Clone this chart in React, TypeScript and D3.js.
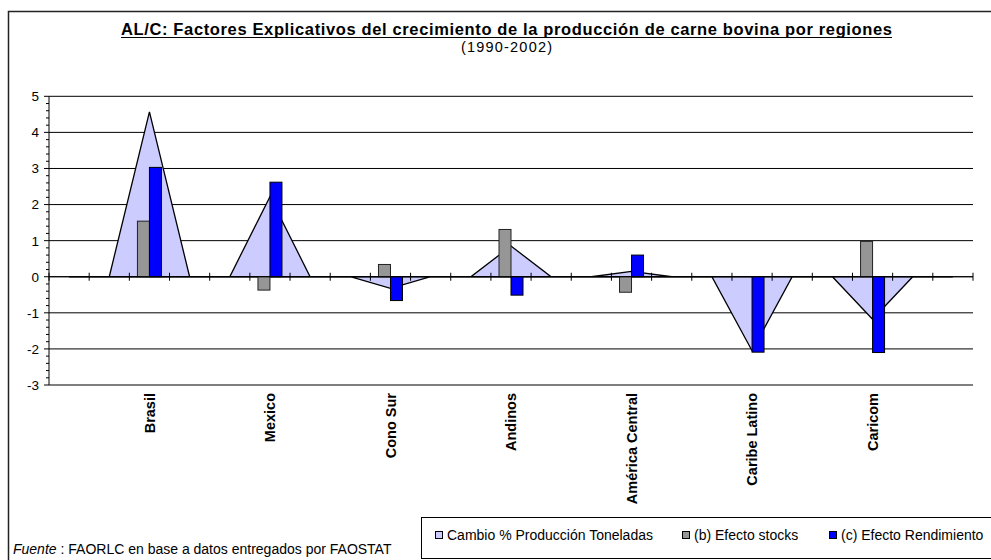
import React from "react";
import * as d3 from "d3";

const categories = [
  "", "", "Brasil", "", "", "Mexico", "", "", "Cono Sur", "", "", "Andinos", "", "",
  "América Central", "", "", "Caribe Latino", "", "", "Caricom", "", "",
];
const cambioProduccion = [
  0, 0, 4.57, 0, 0, 2.22, 0, 0, -0.32, 0, 0, 0.85, 0, 0, 0.15, 0, 0, -2.05, 0, 0, -1.18, 0, 0,
];
const efectoStocks: (number | null)[] = [
  null, null, 1.54, null, null, -0.37, null, null, 0.34, null, null, 1.31, null, null,
  -0.43, null, null, null, null, null, 0.98, null, null,
];
const efectoRendimiento: (number | null)[] = [
  null, null, 3.03, null, null, 2.62, null, null, -0.66, null, null, -0.51, null, null,
  0.6, null, null, -2.09, null, null, -2.1, null, null,
];
const yTicks = [-3, -2, -1, 0, 1, 2, 3, 4, 5];
const legendLabels = ["Cambio % Producción Toneladas", "(b) Efecto stocks", "(c) Efecto Rendimiento"];
const legendColors = ["#CCCCFF", "#969696", "#0000FF"];
const titleText = "AL/C: Factores Explicativos del crecimiento de la producción de carne bovina por regiones";
const subtitleText = "(1990-2002)";
const sourceLabel = "Fuente";
const sourceText = " : FAORLC en base a datos entregados por FAOSTAT";

const FONT = "'Liberation Sans', Arial, Helvetica, sans-serif";

export default function App() {
  const W = 991;
  const H = 560;
  const plot = { left: 49, right: 973, top: 96.3, bottom: 385 };

  const idx = d3.range(categories.length);
  const x = d3.scaleBand<number>().domain(idx).range([plot.left, plot.right]).padding(0);
  const cx = (i: number) => (x(i) as number) + x.bandwidth() / 2;
  const y = d3.scaleLinear().domain([-3, 5]).range([plot.bottom, plot.top]);
  const barW = 12;
  const sub = d3.scaleBand<string>().domain(["stocks", "rend"]).range([-barW, barW]).padding(0);

  const areaGen = d3
    .area<number>()
    .x((_, i) => cx(i))
    .y0(y(0))
    .y1((d) => y(d));
  const areaPath = areaGen(cambioProduccion) || "";

  const minorTicks = d3.range(-3, 5.0001, 0.2).filter((v) => Math.abs(v - Math.round(v)) > 0.01);
  const boundaries = d3.range(categories.length + 1).map((i) =>
    i < categories.length ? (x(i) as number) : plot.right
  );

  const bars: { key: string; v: number; i: number; fill: string; stroke: string }[] = [];
  idx.forEach((i) => {
    const s = efectoStocks[i];
    const r = efectoRendimiento[i];
    if (s != null) bars.push({ key: "stocks", v: s, i, fill: "#969696", stroke: "#222" });
    if (r != null) bars.push({ key: "rend", v: r, i, fill: "#0000FF", stroke: "#000" });
  });

  const legendX = [435, 682, 829];

  return (
    <div style={{ position: "absolute", left: 0, top: 0 }}>
      <svg width={W} height={H} style={{ display: "block", fontFamily: FONT }}>
        <rect x={0} y={0} width={W} height={H} fill="#fff" />
        {/* outer border */}
        <rect x={8.5} y={11.5} width={W + 20} height={H + 20} fill="none" stroke="#222" strokeWidth={1.5} />

        {/* title */}
        <text x={121} y={35} fontSize={16.5} fontWeight="bold" textLength={771} lengthAdjust="spacing" fill="#000">
          {titleText}
        </text>
        <line x1={121} x2={892} y1={37.5} y2={37.5} stroke="#000" strokeWidth={1.2} />
        <text x={461} y={51.5} fontSize={14.5} textLength={91} lengthAdjust="spacing" fill="#000">
          {subtitleText}
        </text>

        {/* gridlines */}
        {yTicks.map((t) => (
          <line key={"g" + t} x1={plot.left} x2={plot.right} y1={y(t)} y2={y(t)} stroke="#000" strokeWidth={1} />
        ))}

        {/* area series */}
        <path d={areaPath} fill="#CCCCFF" stroke="#000" strokeWidth={1.3} strokeLinejoin="miter" />

        {/* bars */}
        {bars.map((b) => {
          const x0 = cx(b.i) + (sub(b.key) as number);
          const y0 = Math.min(y(0), y(b.v));
          const h = Math.abs(y(b.v) - y(0));
          return (
            <rect
              key={b.key + b.i}
              x={x0}
              y={y0}
              width={sub.bandwidth()}
              height={h}
              fill={b.fill}
              stroke={b.stroke}
              strokeWidth={1}
            />
          );
        })}

        {/* x axis line and ticks */}
        <line x1={plot.left} x2={plot.right} y1={y(0)} y2={y(0)} stroke="#000" strokeWidth={1} />
        {boundaries.map((bx, i) => (
          <line key={"xt" + i} x1={bx} x2={bx} y1={y(0) - 4} y2={y(0) + 4} stroke="#000" strokeWidth={1} />
        ))}

        {/* y axis */}
        <line x1={plot.left} x2={plot.left} y1={plot.top} y2={plot.bottom} stroke="#000" strokeWidth={1} />
        {yTicks.map((t) => (
          <line key={"yt" + t} x1={plot.left - 5} x2={plot.left} y1={y(t)} y2={y(t)} stroke="#000" strokeWidth={1} />
        ))}
        {minorTicks.map((t, i) => (
          <line key={"ym" + i} x1={plot.left - 3} x2={plot.left} y1={y(t)} y2={y(t)} stroke="#000" strokeWidth={1} />
        ))}
        {yTicks.map((t) => (
          <text key={"yl" + t} x={39} y={y(t)} dy="0.36em" textAnchor="end" fontSize={13.5} fill="#000">
            {t}
          </text>
        ))}

        {/* category labels */}
        {idx
          .filter((i) => categories[i] !== "")
          .map((i) => (
            <text
              key={"cl" + i}
              transform={`translate(${cx(i)},393) rotate(-90)`}
              textAnchor="end"
              dy="0.36em"
              fontSize={14.5}
              fontWeight="bold"
              fill="#000"
            >
              {categories[i]}
            </text>
          ))}

        {/* source */}
        <text x={13} y={554} fontSize={14} fill="#000">
          <tspan fontStyle="italic">{sourceLabel}</tspan>
          <tspan>{sourceText}</tspan>
        </text>

        {/* legend */}
        <rect x={421.5} y={517.5} width={W - 421.5 + 5} height={41} fill="#fff" stroke="#000" strokeWidth={1} />
        {legendLabels.map((lab, i) => (
          <g key={"lg" + i}>
            <rect x={legendX[i] + 0.5} y={531.5} width={7} height={7} fill={legendColors[i]} stroke="#000" strokeWidth={1} />
            <text x={legendX[i] + 12} y={539.5} fontSize={14} fill="#000">
              {lab}
            </text>
          </g>
        ))}
      </svg>
    </div>
  );
}
